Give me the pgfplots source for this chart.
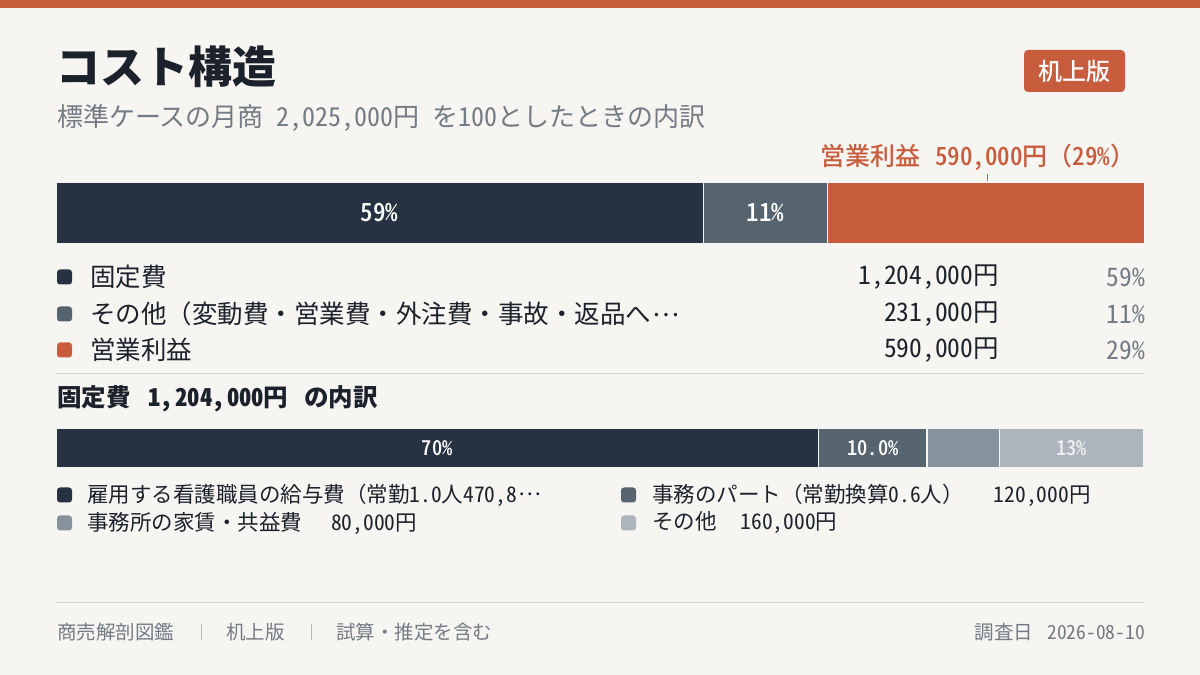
\documentclass[border=0pt]{standalone}
\usepackage{pgfplots}
\pgfplotsset{compat=1.18}
\usepackage{fontspec}
\setmainfont{Noto Sans CJK JP}
\newfontfamily\hw{Noto Sans CJK JP}[RawFeature=+hwid]
\newfontfamily\hwb{Noto Sans CJK JP Bold}[RawFeature=+hwid]
\newfontfamily\med{Noto Sans CJK JP Medium}
\newfontfamily\hwm{Noto Sans CJK JP Medium}[RawFeature=+hwid]
\definecolor{bg}{HTML}{F6F5F1}
\definecolor{navy}{HTML}{263241}
\definecolor{slate}{HTML}{566470}
\definecolor{rust}{HTML}{C85D3D}
\definecolor{gthree}{HTML}{87939C}
\definecolor{gfour}{HTML}{ADB4BB}
\definecolor{ink}{HTML}{1C222B}
\definecolor{sub}{HTML}{737B84}
\definecolor{rule}{HTML}{D6D4CF}
\newcommand{\fs}[1]{\fontsize{#1}{#1}\selectfont}
\newcommand{\ellip}{\hspace{1pt}\raisebox{0.3em}{…}}
\begin{document}
\begin{tikzpicture}[x=1pt,y=1pt]
\fill[bg] (0,0) rectangle (1200,675);
\fill[rust] (0,667) rectangle (1200,675);
% title
\node[anchor=west,inner sep=0,text=ink] at (56,608) {\fs{44}\bfseries コスト構造};
\node[anchor=west,inner sep=0,text=sub] at (57,557) {\fs{26}標準ケースの月商\hspace{13pt}{\hw 2,025,000}円\hspace{13pt}を{\hw 100}としたときの内訳};
% badge
\fill[rust,rounded corners=4pt] (1024,583) rectangle (1125,625);
\node[text=white,inner sep=0] at (1074.5,604) {\fs{24}\med 机上版};
% profit callout
\node[anchor=west,inner sep=0,text=rust] at (820,518) {\fs{25}\med 営業利益\hspace{15pt}{\hwm 590,000}円（{\hwm 29\%}）};
\draw[rust,line width=1pt] (987,493) -- (987,501);
% bar 1
\begin{axis}[at={(56pt,431pt)},anchor=south west,width=1089pt,height=62pt,scale only axis,
  xbar stacked,bar width=62pt,xmin=0,xmax=2025000,ymin=-0.5,ymax=0.5,
  axis lines=none,ticks=none,clip=false,enlargelimits=false]
\addplot[fill=navy,draw=bg,line width=1.5pt] coordinates {(1204000,0)};
\addplot[fill=slate,draw=bg,line width=1.5pt] coordinates {(231000,0)};
\addplot[fill=rust,draw=bg,line width=1.5pt] coordinates {(590000,0)};
\coordinate (a1) at (axis cs:602000,0);
\coordinate (a2) at (axis cs:1319500,0);
\end{axis}
\node[text=white,inner sep=0] at (a1) {\fs{25}\hwm 59\%};
\node[text=white,inner sep=0] at (a2) {\fs{25}\hwm 11\%};
% legend 1
\foreach \y/\c in {398/navy,361/slate,325/rust}{\fill[\c,rounded corners=3pt] (57,\y-7.5) rectangle (72,\y+7.5);}
\node[anchor=west,inner sep=0,text=ink] at (90,398) {\fs{25.5}固定費};
\node[anchor=west,inner sep=0,text=ink] at (90,361) {\fs{25.5}その他（変動費・営業費・外注費・事故・返品へ\ellip};
\node[anchor=west,inner sep=0,text=ink] at (90,325) {\fs{25.5}営業利益};
\node[anchor=east,inner sep=0,text=ink] at (999,398) {\fs{25.5}{\hw 1,204,000}円};
\node[anchor=east,inner sep=0,text=ink] at (999,361) {\fs{25.5}{\hw 231,000}円};
\node[anchor=east,inner sep=0,text=ink] at (999,325) {\fs{25.5}{\hw 590,000}円};
\node[anchor=east,inner sep=0,text=sub] at (1145,398) {\fs{25.5}\hw 59\%};
\node[anchor=east,inner sep=0,text=sub] at (1145,361) {\fs{25.5}\hw 11\%};
\node[anchor=east,inner sep=0,text=sub] at (1145,325) {\fs{25.5}\hw 29\%};
\draw[rule,line width=1pt] (56,301) -- (1145,301);
% section 2
\node[anchor=west,inner sep=0,text=ink] at (57,276) {\fs{24.5}\bfseries 固定費\hspace{18pt}{\hwb 1,\hspace{2.5pt}204,\hspace{2.5pt}000}円\hspace{16pt}の内訳};
\begin{axis}[at={(56pt,207pt)},anchor=south west,width=1088pt,height=40pt,scale only axis,
  xbar stacked,bar width=40pt,xmin=0,xmax=1204000,ymin=-0.5,ymax=0.5,
  axis lines=none,ticks=none,clip=false,enlargelimits=false]
\addplot[fill=navy,draw=bg,line width=1.5pt] coordinates {(844000,0)};
\addplot[fill=slate,draw=bg,line width=1.5pt] coordinates {(120000,0)};
\addplot[fill=gthree,draw=bg,line width=1.5pt] coordinates {(80000,0)};
\addplot[fill=gfour,draw=bg,line width=1.5pt] coordinates {(160000,0)};
\coordinate (b1) at (axis cs:422000,0);
\coordinate (b2) at (axis cs:904000,0);
\coordinate (b4) at (axis cs:1124000,0);
\end{axis}
\node[text=white,inner sep=0] at (b1) {\fs{20.5}\hwm 70\%};
\node[text=white,inner sep=0] at (b2) {\fs{20.5}\hwm 10.0\%};
\node[text=white!80!gfour,inner sep=0] at (b4) {\fs{20.5}\hwm 13\%};
% legend 2
\fill[navy,rounded corners=3pt] (57,172.5) rectangle (72,187.5);
\fill[gthree,rounded corners=3pt] (57,144.5) rectangle (72,159.5);
\fill[slate,rounded corners=3pt] (621,172.5) rectangle (636,187.5);
\fill[gfour,rounded corners=3pt] (621,144.5) rectangle (636,159.5);
\node[anchor=west,inner sep=0,text=ink] at (87,180) {\fs{21.5}雇用する看護職員の給与費（常勤{\hw 1.0}人{\hw 470,8}\ellip};
\node[anchor=west,inner sep=0,text=ink] at (87,152) {\fs{21.5}事務所の家賃・共益費\hspace{29pt}{\hw 80,000}円};
\node[anchor=west,inner sep=0,text=ink] at (652,180) {\fs{21.5}事務のパート（常勤換算{\hw 0.6}人）\hspace{30pt}{\hw 120,000}円};
\node[anchor=west,inner sep=0,text=ink] at (652,152) {\fs{21.5}その他\hspace{24pt}{\hw 160,000}円};
% footer
\draw[rule,line width=1pt] (56,72) -- (1145,72);
\node[anchor=west,inner sep=0,text=sub] at (57,43) {\fs{19.5}商売解剖図鑑};
\draw[rule!70!sub,line width=0.8pt] (201,35) -- (201,51);
\node[anchor=west,inner sep=0,text=sub] at (226,43) {\fs{19.5}机上版};
\draw[rule!70!sub,line width=0.8pt] (311,35) -- (311,51);
\node[anchor=west,inner sep=0,text=sub] at (336,43) {\fs{19.5}試算・推定を含む};
\node[anchor=east,inner sep=0,text=sub] at (1145,43) {\fs{19.5}調査日\hspace{14pt}{\hw 2026-08-10}};
\end{tikzpicture}
\end{document}
